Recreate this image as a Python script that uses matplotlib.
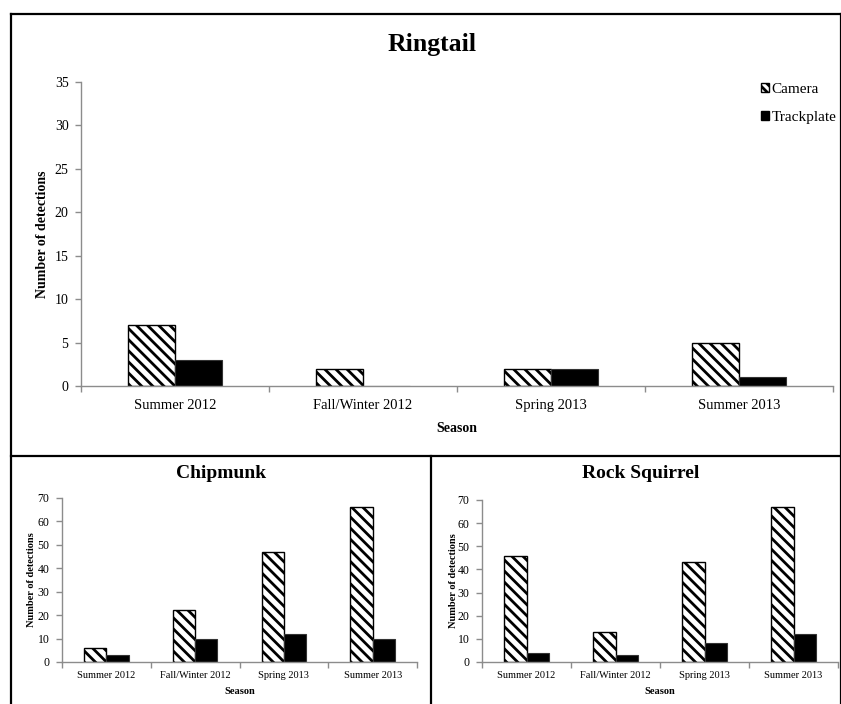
import matplotlib
matplotlib.use("Agg")
import matplotlib.pyplot as plt
from matplotlib.patches import Patch
from matplotlib.lines import Line2D
import numpy as np

plt.rcParams['font.family'] = ['Liberation Serif', 'DejaVu Serif']
plt.rcParams['hatch.linewidth'] = 2.0
plt.rcParams['hatch.color'] = 'black'

seasons = ["Summer 2012", "Fall/Winter 2012", "Spring 2013", "Summer 2013"]
series_names = ["Camera", "Trackplate"]

ringtail_camera = [7, 2, 2, 5]
ringtail_track = [3, 0, 2, 1]
chipmunk_camera = [6, 22, 47, 66]
chipmunk_track = [3, 10, 12, 10]
squirrel_camera = [46, 13, 43, 67]
squirrel_track = [4, 3, 8, 12]

W, H = 841, 704
fig = plt.figure(figsize=(W / 100, H / 100), dpi=100)


def fx(px):
    return px / W


def fy(py):
    return 1 - py / H


def panel(rect, title, cam, trk, ymax, ystep, tfs, lfs, tlfs, ytlfs, title_x, title_y,
          season_y, ylab_x, hatch):
    ax = fig.add_axes(rect)
    x = np.arange(len(seasons))
    w = 0.25
    ax.bar(x - w / 2, cam, width=w, facecolor='white', edgecolor='black',
           hatch=hatch, linewidth=1.0, zorder=2)
    ax.bar(x + w / 2, trk, width=w, facecolor='black', edgecolor='#333333',
           linewidth=0.8, zorder=2)
    ax.set_xlim(-0.5, len(seasons) - 0.5)
    ax.set_ylim(0, ymax)
    ax.set_yticks(np.arange(0, ymax + 0.1, ystep))
    ax.set_xticks(x)
    ax.set_xticklabels(seasons, fontsize=tlfs)
    ax.set_xticks(np.arange(-0.5, len(seasons)), minor=True)
    ax.tick_params(axis='x', which='major', length=0, pad=tlfs * 0.9)
    ax.tick_params(axis='x', which='minor', length=4, color='#8c8c8c', width=1)
    ax.tick_params(axis='y', length=4, color='#8c8c8c', width=1, pad=5, labelsize=ytlfs)
    for s in ['top', 'right']:
        ax.spines[s].set_visible(False)
    for s in ['left', 'bottom']:
        ax.spines[s].set_color('#8c8c8c')
        ax.spines[s].set_linewidth(1)
    pos = ax.get_position()
    cx = (pos.x0 + pos.x1) / 2
    fig.text(fx(title_x), fy(title_y), title, fontsize=tfs, fontweight='bold',
             ha='center', va='center')
    fig.text(cx, fy(season_y), "Season", fontsize=lfs, fontweight='bold', ha='center', va='center')
    fig.text(fx(ylab_x), (pos.y0 + pos.y1) / 2, "Number of detections", fontsize=lfs,
             fontweight='bold', rotation=90, ha='center', va='center')
    return ax


panel([fx(81), fy(386), fx(833) - fx(81), fy(82) - fy(386)], "Ringtail",
      ringtail_camera, ringtail_track, 35, 5, 18.5, 10, 10.5, 10, 432, 45, 428, 42, '\\\\\\')
panel([fx(62), fy(662), fx(417) - fx(62), fy(498) - fy(662)], "Chipmunk",
      chipmunk_camera, chipmunk_track, 70, 10, 14, 7.5, 7.5, 8.5, 221, 473, 692, 32, '\\\\\\')
panel([fx(482), fy(662), fx(838) - fx(482), fy(500) - fy(662)], "Rock Squirrel",
      squirrel_camera, squirrel_track, 70, 10, 14, 7.5, 7.5, 8.5, 641, 474, 692, 453, '\\\\\\')

handles = [Patch(facecolor='white', edgecolor='black', hatch='\\\\\\\\', label=series_names[0]),
           Patch(facecolor='black', edgecolor='black', label=series_names[1])]
fig.legend(handles=handles, loc='upper left', bbox_to_anchor=(fx(761), fy(83)),
           frameon=False, fontsize=11, handlelength=0.55, handleheight=0.55,
           handletextpad=0.15, labelspacing=1.0, borderaxespad=0, borderpad=0)

# panel borders
lw = 1.6
def hline(x0, x1, y):
    fig.add_artist(Line2D([fx(x0), fx(x1)], [fy(y), fy(y)], color='black', lw=lw))

def vline(x, y0, y1):
    fig.add_artist(Line2D([fx(x), fx(x)], [fy(y0), fy(y1)], color='black', lw=lw))

hline(11, 841, 14)
hline(11, 841, 456)
vline(11, 14, 704)
vline(840.5, 14, 704)
vline(431, 456, 704)

fig.savefig("out.png", dpi=100)
